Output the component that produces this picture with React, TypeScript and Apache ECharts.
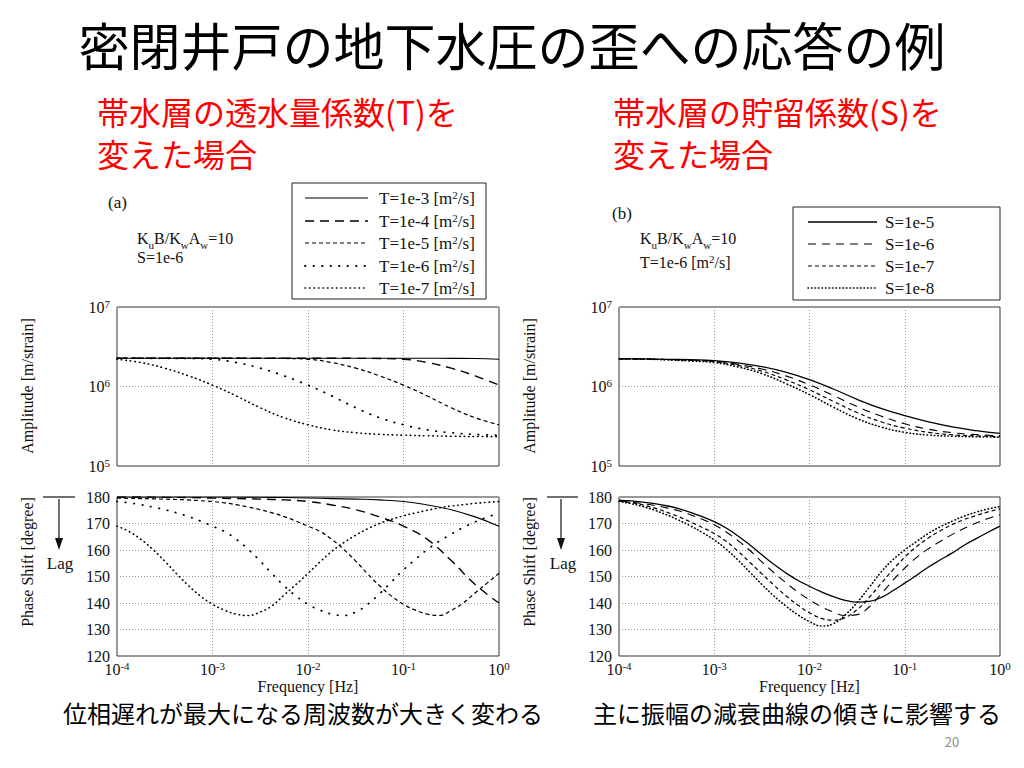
import React, { useEffect, useRef } from 'react';
import * as echarts from 'echarts';

const SERIF = '"Liberation Serif", "Times New Roman", serif';
const JP = '"Noto Sans CJK JP", sans-serif';

// Frequencies [Hz] (quarter-decade steps) for the amplitude curves
const FREQ = [1e-4, 1.778e-4, 3.162e-4, 5.623e-4, 1e-3, 1.778e-3, 3.162e-3, 5.623e-3, 1e-2, 1.778e-2, 3.162e-2, 5.623e-2, 1e-1, 0.1778, 0.3162, 0.5623, 1];
// Frequencies [Hz] (eighth-decade steps) for phase curves that have a minimum
const FREQ_FINE = [1e-4, 1.334e-4, 1.778e-4, 2.371e-4, 3.162e-4, 4.217e-4, 5.623e-4, 7.499e-4, 1e-3, 1.334e-3, 1.778e-3, 2.371e-3, 3.162e-3, 4.217e-3, 5.623e-3, 7.499e-3, 1e-2, 1.334e-2, 1.778e-2, 2.371e-2, 3.162e-2, 4.217e-2, 5.623e-2, 7.499e-2, 0.1, 0.1334, 0.1778, 0.2371, 0.3162, 0.4217, 0.5623, 0.7499, 1];

// (a) Amplitude [m/strain] for different T
const AMP_T3 = [2.27e6, 2.27e6, 2.27e6, 2.27e6, 2.27e6, 2.27e6, 2.27e6, 2.27e6, 2.27e6, 2.27e6, 2.27e6, 2.27e6, 2.27e6, 2.27e6, 2.26e6, 2.25e6, 2.2e6];
const AMP_T4 = [2.27e6, 2.27e6, 2.27e6, 2.27e6, 2.27e6, 2.27e6, 2.27e6, 2.27e6, 2.27e6, 2.27e6, 2.26e6, 2.25e6, 2.2e6, 2.0e6, 1.7e6, 1.36e6, 1.04e6];
const AMP_T5 = [2.27e6, 2.27e6, 2.27e6, 2.27e6, 2.27e6, 2.27e6, 2.26e6, 2.25e6, 2.2e6, 2.0e6, 1.7e6, 1.36e6, 1.04e6, 7.6e5, 5.4e5, 4.05e5, 3.3e5];
const AMP_T6 = [2.27e6, 2.27e6, 2.26e6, 2.25e6, 2.2e6, 2.0e6, 1.7e6, 1.36e6, 1.04e6, 7.6e5, 5.4e5, 4.05e5, 3.3e5, 2.85e5, 2.62e5, 2.5e5, 2.44e5];
const AMP_T7 = [2.2e6, 2.0e6, 1.7e6, 1.36e6, 1.04e6, 7.6e5, 5.4e5, 4.05e5, 3.3e5, 2.85e5, 2.62e5, 2.5e5, 2.44e5, 2.4e5, 2.37e5, 2.35e5, 2.34e5];

// (a) Phase shift [degree] for different T (T3, T4 on FREQ; T5-T7 on FREQ_FINE)
const PH_T3 = [180, 180, 180, 180, 180, 180, 179.9, 179.8, 179.6, 179.4, 179.2, 178.9, 178.3, 177, 175.2, 172.5, 169];
const PH_T4 = [180, 180, 179.9, 179.8, 179.6, 179.4, 179.2, 178.9, 178.3, 177, 175.2, 172.5, 169, 164, 156, 147, 140];
const PH_T5 = [179.6, 179.5, 179.4, 179.3, 179.2, 179.05, 178.9, 178.6, 178.3, 177.8, 177.1, 176.2, 175.2, 174, 172.6, 170.9, 169, 167, 164, 160.2, 155.8, 151, 146.5, 142.6, 139.5, 137.3, 135.8, 135.3, 137.2, 140, 143.8, 147.5, 151.2];
const PH_T6 = [178.3, 177.8, 177.1, 176.2, 175.2, 174, 172.6, 170.9, 169, 167, 164, 160.2, 155.8, 151, 146.5, 142.6, 139.5, 137.3, 135.8, 135.3, 136.6, 139.5, 143.5, 148, 152.5, 156.5, 160.2, 163.3, 166, 168.5, 170.6, 172.4, 173.8];
const PH_T7 = [169, 167, 164, 160.2, 155.8, 151, 146.5, 142.6, 139.5, 137.3, 135.8, 135.3, 136.6, 139, 143, 147, 151.2, 155.5, 159.5, 162.8, 165.6, 168, 170, 171.6, 172.9, 174, 175, 175.9, 176.6, 177.1, 177.6, 178, 178.3];

// (b) Amplitude for different S (on FREQ)
const AMP_S5 = [2.23e6, 2.22e6, 2.2e6, 2.17e6, 2.12e6, 1.98e6, 1.78e6, 1.52e6, 1.22e6, 9.3e5, 6.9e5, 5.3e5, 4.3e5, 3.6e5, 3.1e5, 2.78e5, 2.57e5];
const AMP_S6 = [2.23e6, 2.22e6, 2.19e6, 2.15e6, 2.08e6, 1.9e6, 1.66e6, 1.36e6, 1.05e6, 7.7e5, 5.6e5, 4.25e5, 3.4e5, 2.9e5, 2.62e5, 2.48e5, 2.4e5];
const AMP_S7 = [2.23e6, 2.21e6, 2.18e6, 2.13e6, 2.05e6, 1.84e6, 1.56e6, 1.22e6, 9.1e5, 6.5e5, 4.7e5, 3.6e5, 3.0e5, 2.65e5, 2.47e5, 2.39e5, 2.34e5];
const AMP_S8 = [2.23e6, 2.21e6, 2.16e6, 2.09e6, 2.0e6, 1.76e6, 1.45e6, 1.09e6, 7.9e5, 5.5e5, 3.95e5, 3.1e5, 2.65e5, 2.45e5, 2.37e5, 2.33e5, 2.3e5];

// (b) Phase for different S (on FREQ_FINE)
const PH_S5 = [178.8, 178.5, 178.1, 177.5, 176.7, 175.6, 174.2, 172.6, 170.7, 168.3, 165.3, 161.9, 158.2, 154.6, 151.4, 148.6, 146.3, 144.2, 142.4, 141, 140.3, 140.6, 142, 144.6, 147.5, 150.5, 153.6, 156.3, 158.9, 161.8, 164.3, 166.7, 169];
const PH_S6 = [178.5, 178.1, 177.5, 176.8, 175.9, 174.8, 173.3, 171.6, 169.5, 166.8, 163.5, 159.8, 155.5, 151.5, 147.7, 144.2, 141.2, 138.6, 136.6, 135.3, 135.6, 138.5, 143.3, 148.5, 153.2, 157.2, 160.5, 163.3, 165.9, 168.2, 170.2, 171.9, 173.3];
const PH_S7 = [178.5, 177.9, 177, 175.8, 174.3, 172.6, 170.6, 168.5, 166.2, 163.3, 159.5, 155.3, 151, 146.8, 142.8, 139.3, 136.3, 134.2, 133.5, 134.5, 137.5, 142, 147.3, 152.5, 157.3, 161.3, 164.6, 167.3, 169.6, 171.5, 173, 174.4, 175.5];
const PH_S8 = [178.3, 177.5, 176.4, 175, 173.3, 171.3, 169.1, 166.6, 163.8, 160.3, 156.2, 151.6, 147, 142.7, 138.9, 135.6, 133, 131.3, 132.2, 135.5, 140.2, 145.8, 151.6, 156.3, 160, 163.2, 166.3, 168.8, 170.9, 172.8, 174.3, 175.5, 176.4];

const T_LABELS = ['T=1e-3', 'T=1e-4', 'T=1e-5', 'T=1e-6', 'T=1e-7'];
const S_LABELS = ['S=1e-5', 'S=1e-6', 'S=1e-7', 'S=1e-8'];
const PHASE_TICKS = { min: 120, max: 180, interval: 10 };

const T_STYLES = [
  { dash: null as any, width: 1.1, cap: 'butt' },
  { dash: [9, 6], width: 1.4, cap: 'butt' },
  { dash: [4, 3], width: 1.2, cap: 'butt' },
  { dash: [0.5, 8], width: 1.8, cap: 'round' },
  { dash: [0.5, 4], width: 1.6, cap: 'round' },
];
const S_STYLES = [
  { dash: null as any, width: 1.3, cap: 'butt' },
  { dash: [8, 6], width: 1.1, cap: 'butt' },
  { dash: [4, 3], width: 1.2, cap: 'butt' },
  { dash: [0.5, 3], width: 1.6, cap: 'round' },
];

const supFmt = (v: number) => `10{sup|${Math.round(Math.log10(v))}}`;
const supRich = { sup: { fontSize: 11, fontFamily: SERIF, color: '#111', verticalAlign: 'top', lineHeight: 10 } };

function xAxis(gridIndex: number, labels: boolean) {
  return {
    type: 'log', logBase: 10, gridIndex, min: 1e-4, max: 1,
    axisLine: { show: false }, axisTick: { show: false },
    splitLine: { show: true, lineStyle: { color: '#9a9a9a', type: [1, 2], width: 1 } },
    axisLabel: labels
      ? { formatter: supFmt, fontFamily: SERIF, fontSize: 16, color: '#111', margin: 4, lineHeight: 18, rich: supRich }
      : { show: false },
    name: labels ? 'Frequency [Hz]' : '',
    nameLocation: 'middle', nameGap: 18,
    nameTextStyle: { fontFamily: SERIF, fontSize: 16, color: '#111' },
  };
}
function yAmp(gridIndex: number) {
  return {
    type: 'log', logBase: 10, gridIndex, min: 1e5, max: 1e7,
    axisLine: { show: false }, axisTick: { show: false },
    splitLine: { show: true, lineStyle: { color: '#9a9a9a', type: [1, 2], width: 1 } },
    axisLabel: { formatter: supFmt, fontFamily: SERIF, fontSize: 16, color: '#111', margin: 7, lineHeight: 18, rich: supRich },
  };
}
function yPhase(gridIndex: number) {
  return {
    type: 'value', gridIndex, ...PHASE_TICKS,
    axisLine: { show: false }, axisTick: { show: false },
    splitLine: { show: true, lineStyle: { color: '#9a9a9a', type: [1, 2], width: 1 } },
    axisLabel: { fontFamily: SERIF, fontSize: 16, color: '#111', margin: 7 },
  };
}

function mkSeries(name: string, freq: number[], vals: number[], idx: number, st: any) {
  return {
    type: 'line', name, xAxisIndex: idx, yAxisIndex: idx,
    data: freq.map((f, i) => [f, vals[i]]),
    showSymbol: false, smooth: 0.45, silent: true,
    lineStyle: { color: '#000', width: st.width, type: st.dash ? st.dash : 'solid', cap: st.cap },
  };
}

function legendBox(x: number, y: number, w: number, h: number, rows: number[], lx1: number, lx2: number, tx: number, labels: string[], styles: any[], unit: boolean) {
  const els: any[] = [{ type: 'rect', shape: { x, y, width: w, height: h }, style: { fill: '#fff', stroke: '#222', lineWidth: 1 } }];
  labels.forEach((lab, i) => {
    const st = styles[i];
    els.push({ type: 'line', shape: { x1: lx1, y1: rows[i], x2: lx2, y2: rows[i] }, style: { stroke: '#000', lineWidth: st.width, lineDash: st.dash || undefined, lineCap: st.cap } });
    els.push({ type: 'text', x: tx, y: rows[i], style: { text: unit ? `${lab} [m{sup|2}/s]` : lab, rich: supRich, fontFamily: SERIF, fontSize: 17, fill: '#111', lineHeight: 18, align: 'left', verticalAlign: 'middle' } });
  });
  return els;
}

function txt(x: number, y: number, text: string, extra: any = {}) {
  return { type: 'text', x, y, style: { text, fontFamily: SERIF, fontSize: 16, fill: '#111', align: 'left', verticalAlign: 'middle', ...extra } };
}

function lagMark(lx1: number, lx2: number, ax: number, tx: number) {
  return [
    { type: 'line', shape: { x1: lx1, y1: 497, x2: lx2, y2: 497 }, style: { stroke: '#111', lineWidth: 1.2 } },
    { type: 'line', shape: { x1: ax, y1: 499, x2: ax, y2: 542 }, style: { stroke: '#111', lineWidth: 1.2 } },
    { type: 'polygon', shape: { points: [[ax - 4, 538], [ax + 4, 538], [ax, 550]] }, style: { fill: '#111' } },
    txt(tx, 563, 'Lag', { align: 'center', fontSize: 17 }),
  ];
}

const App: React.FC = () => {
  const ref = useRef<HTMLDivElement>(null);
  useEffect(() => {
    if (!ref.current) return;
    const chart = echarts.init(ref.current, undefined, { renderer: 'svg' });
    const grids = [
      { left: 117, top: 307, width: 382, height: 159 },
      { left: 117, top: 497, width: 382, height: 159 },
      { left: 619, top: 307, width: 381, height: 159 },
      { left: 619, top: 497, width: 381, height: 159 },
    ].map(g => ({ ...g, show: true, borderColor: '#333', borderWidth: 1, backgroundColor: 'transparent' }));

    const kub = 'K{sub|u}B/K{sub|w}A{sub|w}=10';
    const subRich = { sub: { fontSize: 11, fontFamily: SERIF, color: '#111', verticalAlign: 'bottom', lineHeight: 24 } };

    const graphic: any[] = [
      { type: 'text', x: 512, y: 44, style: { text: '密閉井戸の地下水圧の歪への応答の例', fontFamily: JP, fontSize: 51, fill: '#000', align: 'center', verticalAlign: 'middle' } },
      { type: 'text', x: 97, y: 111, style: { text: '帯水層の透水量係数(T)を', fontFamily: JP, fontSize: 32, fill: '#ff0000', align: 'left', verticalAlign: 'middle' } },
      { type: 'text', x: 97, y: 153, style: { text: '変えた場合', fontFamily: JP, fontSize: 32, fill: '#ff0000', align: 'left', verticalAlign: 'middle' } },
      { type: 'text', x: 613, y: 111, style: { text: '帯水層の貯留係数(S)を', fontFamily: JP, fontSize: 32, fill: '#ff0000', align: 'left', verticalAlign: 'middle' } },
      { type: 'text', x: 613, y: 153, style: { text: '変えた場合', fontFamily: JP, fontSize: 32, fill: '#ff0000', align: 'left', verticalAlign: 'middle' } },
      { type: 'text', x: 63, y: 712, style: { text: '位相遅れが最大になる周波数が大きく変わる', fontFamily: JP, fontSize: 24, fill: '#000', align: 'left', verticalAlign: 'middle' } },
      { type: 'text', x: 593, y: 712, style: { text: '主に振幅の減衰曲線の傾きに影響する', fontFamily: JP, fontSize: 24, fill: '#000', align: 'left', verticalAlign: 'middle' } },
      { type: 'text', x: 952, y: 741, style: { text: '20', fontFamily: JP, fontSize: 13, fill: '#8c8c8c', align: 'center', verticalAlign: 'middle' } },
      // panel (a) annotations
      txt(108, 202, '(a)', { fontSize: 17 }),
      txt(137, 238, kub, { rich: subRich, lineHeight: 20 }),
      txt(137, 257, 'S=1e-6'),
      // panel (b) annotations
      txt(612, 213, '(b)', { fontSize: 17 }),
      txt(640, 238, kub, { rich: subRich, lineHeight: 20 }),
      txt(640, 262, 'T=1e-6 [m{sup|2}/s]', { rich: supRich, lineHeight: 18 }),
      // rotated axis titles
      { type: 'text', x: 27, y: 386, rotation: Math.PI / 2, style: { text: 'Amplitude [m/strain]', fontFamily: SERIF, fontSize: 16, fill: '#111', align: 'center', verticalAlign: 'middle' } },
      { type: 'text', x: 27, y: 562, rotation: Math.PI / 2, style: { text: 'Phase Shift [degree]', fontFamily: SERIF, fontSize: 16, fill: '#111', align: 'center', verticalAlign: 'middle' } },
      { type: 'text', x: 529, y: 386, rotation: Math.PI / 2, style: { text: 'Amplitude [m/strain]', fontFamily: SERIF, fontSize: 16, fill: '#111', align: 'center', verticalAlign: 'middle' } },
      { type: 'text', x: 529, y: 562, rotation: Math.PI / 2, style: { text: 'Phase Shift [degree]', fontFamily: SERIF, fontSize: 16, fill: '#111', align: 'center', verticalAlign: 'middle' } },
      ...lagMark(43, 75, 59, 60),
      ...lagMark(547, 578, 561, 563),
      ...legendBox(292, 183, 194, 116, [198, 221, 243, 266, 288], 305, 368, 379, T_LABELS, T_STYLES, true),
      ...legendBox(793, 207, 207, 93, [222, 244, 266, 288], 808, 877, 885, S_LABELS, S_STYLES, false),
    ];

    const series: any[] = [
      mkSeries('T=1e-3', FREQ, AMP_T3, 0, T_STYLES[0]),
      mkSeries('T=1e-4', FREQ, AMP_T4, 0, T_STYLES[1]),
      mkSeries('T=1e-5', FREQ, AMP_T5, 0, T_STYLES[2]),
      mkSeries('T=1e-6', FREQ, AMP_T6, 0, T_STYLES[3]),
      mkSeries('T=1e-7', FREQ, AMP_T7, 0, T_STYLES[4]),
      mkSeries('T=1e-3', FREQ, PH_T3, 1, T_STYLES[0]),
      mkSeries('T=1e-4', FREQ, PH_T4, 1, T_STYLES[1]),
      mkSeries('T=1e-5', FREQ_FINE, PH_T5, 1, T_STYLES[2]),
      mkSeries('T=1e-6', FREQ_FINE, PH_T6, 1, T_STYLES[3]),
      mkSeries('T=1e-7', FREQ_FINE, PH_T7, 1, T_STYLES[4]),
      mkSeries('S=1e-5', FREQ, AMP_S5, 2, S_STYLES[0]),
      mkSeries('S=1e-6', FREQ, AMP_S6, 2, S_STYLES[1]),
      mkSeries('S=1e-7', FREQ, AMP_S7, 2, S_STYLES[2]),
      mkSeries('S=1e-8', FREQ, AMP_S8, 2, S_STYLES[3]),
      mkSeries('S=1e-5', FREQ_FINE, PH_S5, 3, S_STYLES[0]),
      mkSeries('S=1e-6', FREQ_FINE, PH_S6, 3, S_STYLES[1]),
      mkSeries('S=1e-7', FREQ_FINE, PH_S7, 3, S_STYLES[2]),
      mkSeries('S=1e-8', FREQ_FINE, PH_S8, 3, S_STYLES[3]),
    ];

    chart.setOption({
      animation: false,
      backgroundColor: '#ffffff',
      grid: grids,
      xAxis: [xAxis(0, false), xAxis(1, true), xAxis(2, false), xAxis(3, true)],
      yAxis: [yAmp(0), yPhase(1), yAmp(2), yPhase(3)],
      series,
      graphic,
    });
    return () => chart.dispose();
  }, []);
  return <div ref={ref} style={{ position: 'fixed', left: 0, top: 0, width: 1024, height: 768, background: '#fff' }} />;
};

export default App;
